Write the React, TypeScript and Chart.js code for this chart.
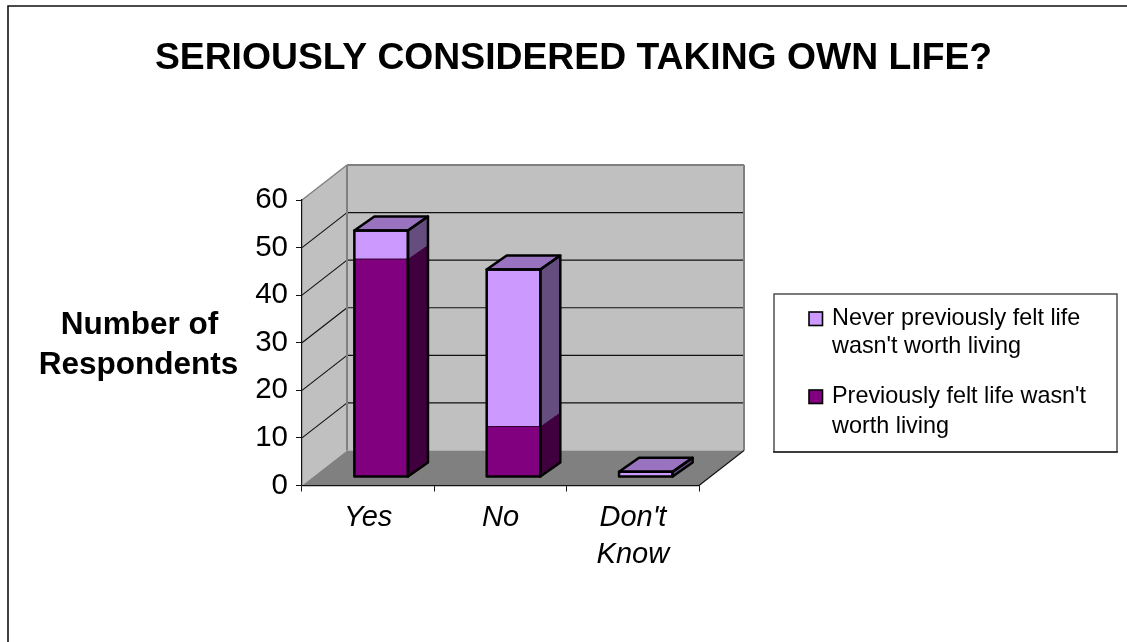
import React, { useEffect, useRef } from "react";
import { Chart, registerables } from "chart.js";

Chart.register(...registerables);

const categories: (string | string[])[] = ["Yes", "No", ["Don't", "Know"]];
const previouslyFelt = [45.7, 10.5, 0];
const neverFelt = [6, 33, 1];
const yMax = 60;
const yStep = 10;

const titleText = "SERIOUSLY CONSIDERED TAKING OWN LIFE?";
const yTitleLines = ["Number of", "Respondents"];
const previouslyLabel = "Previously felt life wasn't worth living";
const neverLabel = "Never previously felt life wasn't worth living";
const previouslyLines = ["Previously felt life wasn't", "worth living"];
const neverLines = ["Never previously felt life", "wasn't worth living"];

const FONT = "'Liberation Sans', Arial, sans-serif";
const WALL = "#C0C0C0";
const FLOOR = "#808080";
const DARK = "#800080";
const DARK_SIDE = "#400040";
const LIGHT = "#CC99FF";
const LIGHT_SIDE = "#664D80";
const LIGHT_TOP = "#9973BF";

// Depth of the whole plot box, and of the bars within it
const boxDx = 45;
const boxDy = -35;
const barShiftX = 13;
const barShiftY = -9;
const barDx = 20;
const barDy = -14;
const barStroke = 2.5;

function poly(ctx: CanvasRenderingContext2D, pts: number[][], fill: string | null, stroke: string | null, lw = 1) {
  ctx.beginPath();
  pts.forEach((p, i) => (i ? ctx.lineTo(p[0], p[1]) : ctx.moveTo(p[0], p[1])));
  ctx.closePath();
  if (fill) {
    ctx.fillStyle = fill;
    ctx.fill();
  }
  if (stroke) {
    ctx.strokeStyle = stroke;
    ctx.lineWidth = lw;
    ctx.lineJoin = "round";
    ctx.stroke();
  }
}

function line(ctx: CanvasRenderingContext2D, x1: number, y1: number, x2: number, y2: number, color: string, lw: number) {
  ctx.beginPath();
  ctx.moveTo(x1, y1);
  ctx.lineTo(x2, y2);
  ctx.strokeStyle = color;
  ctx.lineWidth = lw;
  ctx.stroke();
}

const box3d = {
  id: "box3d",
  beforeDraw(chart: any) {
    const { ctx, chartArea: a, scales } = chart;
    ctx.save();
    ctx.fillStyle = "#fff";
    ctx.fillRect(0, 0, chart.width, chart.height);

    // Outer frame: open on the bottom and right
    ctx.beginPath();
    ctx.moveTo(8, 642);
    ctx.lineTo(8, 6);
    ctx.lineTo(1127, 6);
    ctx.strokeStyle = "#111";
    ctx.lineWidth = 1.6;
    ctx.stroke();

    const { left: l, right: r, top: t, bottom: b } = a;
    // Side wall, back wall and floor
    poly(ctx, [[l, b], [l + boxDx, b + boxDy], [l + boxDx, t + boxDy], [l, t]], WALL, null);
    poly(ctx, [[l + boxDx, t + boxDy], [r + boxDx, t + boxDy], [r + boxDx, b + boxDy], [l + boxDx, b + boxDy]], WALL, null);
    poly(ctx, [[l, b], [r, b], [r + boxDx, b + boxDy], [l + boxDx, b + boxDy]], FLOOR, null);

    // Gridlines wrap from the front axis over the side wall onto the back wall
    scales.y.ticks.forEach((tick: any) => {
      if (tick.value === 0 || tick.value === yMax) return;
      const y = scales.y.getPixelForValue(tick.value);
      line(ctx, l, y, l + boxDx, y + boxDy, "#111", 1.1);
      line(ctx, l + boxDx, y + boxDy, r + boxDx, y + boxDy, "#111", 1.1);
    });

    // Wall edges
    ctx.lineCap = "butt";
    line(ctx, l, t, l + boxDx, t + boxDy, "#808080", 1.5);
    line(ctx, l + boxDx, t + boxDy, r + boxDx, t + boxDy, "#808080", 2);
    line(ctx, l + boxDx, t + boxDy, l + boxDx, b + boxDy, "#808080", 2);
    line(ctx, r + boxDx, t + boxDy, r + boxDx, b + boxDy, "#808080", 2);
    line(ctx, r, b, r + boxDx, b + boxDy, "#111", 1.1);
    ctx.restore();
  },
  beforeDatasetsDraw(chart: any) {
    chart.ctx.save();
    chart.ctx.translate(barShiftX, barShiftY);
  },
  afterDatasetsDraw(chart: any) {
    const ctx = chart.ctx as CanvasRenderingContext2D;
    const sides = [DARK_SIDE, LIGHT_SIDE];
    const zero = chart.scales.y.getPixelForValue(0);
    chart.data.datasets.forEach((ds: any, di: number) => {
      chart.getDatasetMeta(di).data.forEach((bar: any, i: number) => {
        if (!ds.data[i]) return;
        const xr = bar.x + bar.width / 2;
        const xl = bar.x - bar.width / 2;
        const top = bar.y;
        const bottom = bar.base;
        poly(ctx, [[xr, top], [xr + barDx, top + barDy], [xr + barDx, bottom + barDy], [xr, bottom]], sides[di], null);
        const isTopSegment = chart.data.datasets.slice(di + 1).every((d: any) => !d.data[i]);
        if (isTopSegment) {
          poly(ctx, [[xl, top], [xr, top], [xr + barDx, top + barDy], [xl + barDx, top + barDy]], LIGHT_TOP, "#000", barStroke);
          // Outline of the full stack: front face plus the right-hand depth edges
          poly(ctx, [[xl, top], [xr, top], [xr, zero], [xl, zero]], null, "#000", barStroke);
          poly(ctx, [[xr, top], [xr + barDx, top + barDy], [xr + barDx, zero + barDy], [xr, zero]], null, "#000", barStroke);
        } else {
          // Thin seam between stacked segments
          line(ctx, xl, top, xr, top, "#300030", 1);
          line(ctx, xr, top, xr + barDx, top + barDy, "#300030", 1);
        }
      });
    });
    ctx.restore();
  },
  afterDraw(chart: any) {
    const ctx = chart.ctx as CanvasRenderingContext2D;
    ctx.save();
    ctx.fillStyle = "#000";
    ctx.textBaseline = "alphabetic";

    ctx.textAlign = "center";
    ctx.font = `bold 37.3px ${FONT}`;
    ctx.fillText(titleText, 573.5, 69);

    ctx.font = `bold 31.5px ${FONT}`;
    ctx.fillText(yTitleLines[0], 139.5, 333.5);
    ctx.fillText(yTitleLines[1], 138.5, 374);

    // Legend box, with the stack order read top-down
    ctx.fillStyle = "#fff";
    ctx.fillRect(774, 294, 343, 158);
    ctx.strokeStyle = "#444";
    ctx.lineWidth = 1.4;
    ctx.strokeRect(774, 294, 343, 158);
    line(ctx, 773, 452, 1118, 452, "#000", 1.2);

    const entries = [
      { lines: neverLines, color: LIGHT, swatchY: 312, baselines: [325, 353] },
      { lines: previouslyLines, color: DARK, swatchY: 390, baselines: [403, 433] },
    ];
    ctx.textAlign = "left";
    ctx.font = `23.4px ${FONT}`;
    entries.forEach((e) => {
      ctx.fillStyle = e.color;
      ctx.fillRect(809, e.swatchY, 13.5, 13.5);
      ctx.strokeStyle = "#000";
      ctx.lineWidth = 1.6;
      ctx.strokeRect(809, e.swatchY, 13.5, 13.5);
      ctx.fillStyle = "#000";
      e.lines.forEach((t, i) => ctx.fillText(t, 832, e.baselines[i]));
    });
    ctx.restore();
  },
};

export default function App() {
  const ref = useRef<HTMLCanvasElement>(null);
  useEffect(() => {
    const chart = new Chart(ref.current!, {
      type: "bar",
      data: {
        labels: categories as any,
        datasets: [
          { label: previouslyLabel, data: previouslyFelt, backgroundColor: DARK, borderWidth: 0, inflateAmount: 0 },
          { label: neverLabel, data: neverFelt, backgroundColor: LIGHT, borderWidth: 0, inflateAmount: 0 },
        ] as any,
      },
      options: {
        responsive: false,
        animation: false,
        devicePixelRatio: 1,
        layout: { padding: { left: 242, right: 428, top: 200, bottom: 56.5 } },
        plugins: { legend: { display: false }, title: { display: false }, tooltip: { enabled: false } },
        datasets: { bar: { barPercentage: 0.405, categoryPercentage: 1 } },
        scales: {
          x: {
            stacked: true,
            afterFit: (s: any) => {
              s.height = 100;
            },
            border: { color: "#111", width: 1.2 },
            grid: { drawOnChartArea: false, drawTicks: true, tickLength: 6, color: "#111" },
            ticks: {
              color: "#000",
              maxRotation: 0,
              autoSkip: false,
              padding: 8,
              font: { family: FONT, size: 29, style: "italic", lineHeight: 1.276 },
            },
          },
          y: {
            stacked: true,
            min: 0,
            max: yMax,
            afterFit: (s: any) => {
              s.width = 60;
            },
            border: { color: "#111", width: 1.2 },
            grid: { drawOnChartArea: false, drawTicks: true, tickLength: 6, color: "#111" },
            ticks: {
              stepSize: yStep,
              color: "#000",
              padding: 8,
              font: { family: FONT, size: 29.5 },
            },
          },
        },
      } as any,
      plugins: [box3d as any],
    });
    return () => chart.destroy();
  }, []);
  return (
    <canvas
      ref={ref}
      width={1127}
      height={642}
      style={{ position: "absolute", left: 0, top: 0, display: "block" }}
    />
  );
}
